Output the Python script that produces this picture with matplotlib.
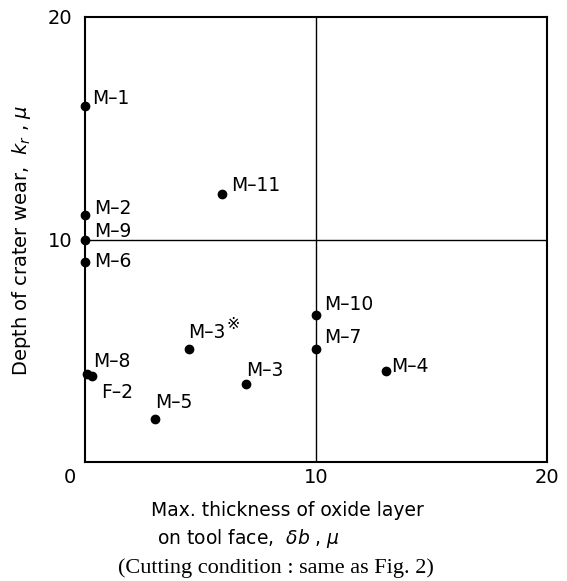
import matplotlib
matplotlib.use("Agg")
import matplotlib.pyplot as plt
import matplotlib.transforms as mtransforms

# data
labels = ["M–1", "M–2", "M–9", "M–6", "M–8", "F–2", "M–5", "M–3※", "M–3", "M–11", "M–10", "M–7", "M–4"]
oxide = [0.0, 0.0, 0.0, 0.0, 0.1, 0.3, 3.05, 4.5, 6.95, 5.95, 10.0, 10.0, 13.05]
crater = [16.0, 11.1, 10.0, 9.0, 3.95, 3.85, 1.95, 5.1, 3.5, 12.05, 6.6, 5.1, 4.1]
# label offsets in pixels (dx, dy) relative to each point
offsets = [(7, 8), (9, 7), (9, 8), (9, 0), (6, 13), (9, -16), (0, 16), (-1, 16), (1, 14), (9, 8), (8, 11), (8, 11), (5, 4)]
xticks = [0, 10, 20]
yticks = [10, 20]

plt.rcParams['font.family'] = ['DejaVu Sans']

fig = plt.figure(figsize=(5.67, 5.81), dpi=100)
ax = fig.add_axes([85/567, 1-462/581, (547-85)/567, (462-17)/581])
ax.set_xlim(0, 20)
ax.set_ylim(0, 20)

for s in ax.spines.values():
    s.set_linewidth(1.5)
    s.set_color('black')

ax.axvline(10, color='black', lw=1.0)
ax.axhline(10, color='black', lw=1.0)

ax.plot(oxide, crater, 'o', color='black', ms=6, clip_on=False, zorder=5)

for lab, x, y, (dx, dy) in zip(labels, oxide, crater, offsets):
    mark = lab.endswith("※")
    base = lab[:-1] if mark else lab
    ax.annotate(base, (x, y), xytext=(dx * 0.72, dy * 0.72), textcoords='offset points',
                ha='left', va='center', fontsize=13.5, color='black')
    if mark:
        ax.annotate("※", (x, y), xytext=((dx + 39) * 0.72, (dy + 8) * 0.72),
                    textcoords='offset points', ha='left', va='center', fontsize=11.5, color='black')

ax.set_xticks(xticks)
ax.set_xticklabels([str(t) for t in xticks])
ax.set_yticks(yticks)
ax.set_yticklabels([str(t) for t in yticks])
ax.tick_params(axis='both', length=0, labelsize=14)
ax.tick_params(axis='x', pad=4)
ax.tick_params(axis='y', pad=9)
# shift the "0" label left as in the reference
lab0 = ax.get_xticklabels()[0]
lab0.set_transform(lab0.get_transform() + mtransforms.ScaledTranslation(-15/100, 0, fig.dpi_scale_trans))

fig.text(22/567, 1-240/581, r"Depth of crater wear,  $k_r$ , $\mu$", rotation=90,
         ha='center', va='center', fontsize=14)
fig.text(287/567, 1-510/581, "Max. thickness of oxide layer", ha='center', va='center', fontsize=13.5)
fig.text(157/567, 1-538/581, r"on tool face,  $\delta b$ , $\mu$", ha='left', va='center', fontsize=13.5)
fig.text(276/567, 1-568/581, "(Cutting condition : same as Fig. 2)", ha='center', va='center',
         fontsize=16, family=['Liberation Serif'])

fig.savefig("out.png", dpi=100)
